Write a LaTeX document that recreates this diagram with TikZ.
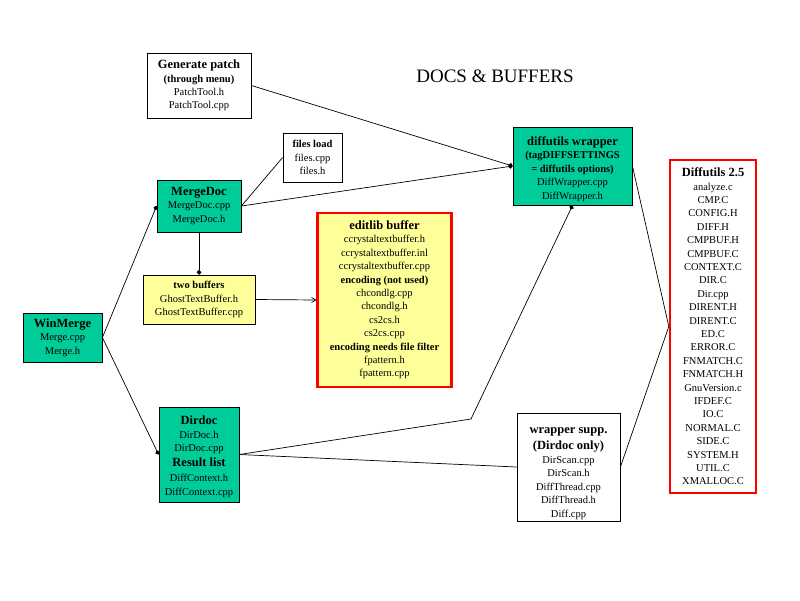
\documentclass[tikz,border=0pt]{standalone}
\usepackage{fontspec}
\setmainfont{Liberation Serif}
\usetikzlibrary{arrows.meta}
\definecolor{tealc}{RGB}{0,204,153}
\definecolor{yelc}{RGB}{255,255,153}
\newcommand{\ttl}[1]{{\fontsize{12.5}{13.4}\selectfont\bfseries #1}}
\newcommand{\sbt}[1]{{\bfseries #1}}
\newcommand{\toppad}[1]{\rule{0pt}{#1}}
\tikzset{
  box/.style={draw, line width=0.8pt, align=center, inner sep=0pt, font=\fontsize{10.5}{13.4}\selectfont},
  gbox/.style={box, fill=tealc},
  ybox/.style={box, fill=yelc},
  rbox/.style={box, draw=red, line width=2.4pt},
  conn/.style={line width=0.7pt},
  dot/.tip={Circle[length=4.5pt]},
}
\begin{document}
\begin{tikzpicture}[x=1pt,y=1pt]
\useasboundingbox[fill=white] (0,0) rectangle (800,-600);

\node[font=\fontsize{19}{22}\selectfont] (title) at (495,-76) {DOCS \& BUFFERS};

\node[box, minimum width=104pt, minimum height=65pt] (patch) at (199,-85.5)
  {\ttl{Generate patch}\\\sbt{(through menu)}\\PatchTool.h\\PatchTool.cpp};
\node[box, minimum width=59pt, minimum height=49pt] (files) at (312.5,-157.5)
  {\sbt{files load}\\files.cpp\\files.h};
\node[gbox, minimum width=84pt, minimum height=52pt] (merge) at (199,-206)
  {\ttl{MergeDoc}\\MergeDoc.cpp\\MergeDoc.h};
\node[ybox, minimum width=112pt, minimum height=49pt] (twobuf) at (199,-299.5)
  {\sbt{two buffers}\\GhostTextBuffer.h\\GhostTextBuffer.cpp};
\node[gbox, minimum width=79pt, minimum height=49pt] (winmerge) at (62.5,-337.5)
  {\ttl{WinMerge}\\Merge.cpp\\Merge.h};
\node[gbox, minimum width=80pt, minimum height=95pt] (dirdoc) at (199,-454.5)
  {\toppad{13pt}\ttl{Dirdoc}\\DirDoc.h\\DirDoc.cpp\\[2pt]\ttl{Result list}\\[1.5pt]DiffContext.h\\DiffContext.cpp};
\node[rbox, fill=yelc, minimum width=134pt, minimum height=174pt] (editlib) at (384.5,-300)
  {\ttl{editlib buffer}\\ccrystaltextbuffer.h\\ccrystaltextbuffer.inl\\ccrystaltextbuffer.cpp\\\sbt{encoding (not used)}\\chcondlg.cpp\\chcondlg.h\\cs2cs.h\\cs2cs.cpp\\\sbt{encoding needs file filter}\\fpattern.h\\fpattern.cpp};
\node[gbox, minimum width=119pt, minimum height=78pt] (wrap) at (572.5,-166)
  {\toppad{15pt}\ttl{diffutils wrapper}\\\sbt{(tagDIFFSETTINGS}\\\sbt{= diffutils options)}\\DiffWrapper.cpp\\DiffWrapper.h};
\node[rbox, fill=white, minimum width=86pt, minimum height=333pt] (diffutils) at (713,-326.5)
  {\ttl{Diffutils 2.5}\\analyze.c\\CMP.C\\CONFIG.H\\DIFF.H\\CMPBUF.H\\CMPBUF.C\\CONTEXT.C\\DIR.C\\Dir.cpp\\DIRENT.H\\DIRENT.C\\ED.C\\ERROR.C\\FNMATCH.C\\FNMATCH.H\\GnuVersion.c\\IFDEF.C\\IO.C\\NORMAL.C\\SIDE.C\\SYSTEM.H\\UTIL.C\\XMALLOC.C};
\node[box, minimum width=103pt, minimum height=108pt] (supp) at (568.5,-467)
  {\toppad{19pt}\ttl{wrapper supp.}\\[2pt]\ttl{(Dirdoc only)}\\[1pt]DirScan.cpp\\DirScan.h\\DiffThread.cpp\\DiffThread.h\\Diff.cpp};

\coordinate (bend) at (471,-419);

\draw[conn, -dot] (patch.east) -- (wrap.west);
\draw[conn, -dot] (merge.east) -- (wrap.west);
\draw[conn] (files.west) -- (merge.east);
\draw[conn, -dot] (merge.south) -- (twobuf.north);
\draw[conn, -{Straight Barb[length=4pt,width=5pt]}] (twobuf.east) -- (editlib.west);
\draw[conn, -dot] (winmerge.east) -- (merge.west);
\draw[conn, -dot] (winmerge.east) -- (dirdoc.west);
\draw[conn, -dot] (dirdoc.east) -- (bend) -- (wrap.south);
\draw[conn] (dirdoc.east) -- (supp.west);
\draw[conn] (supp.east) -- (diffutils.west);
\draw[conn] (wrap.east) -- (diffutils.west);
\end{tikzpicture}
\end{document}
